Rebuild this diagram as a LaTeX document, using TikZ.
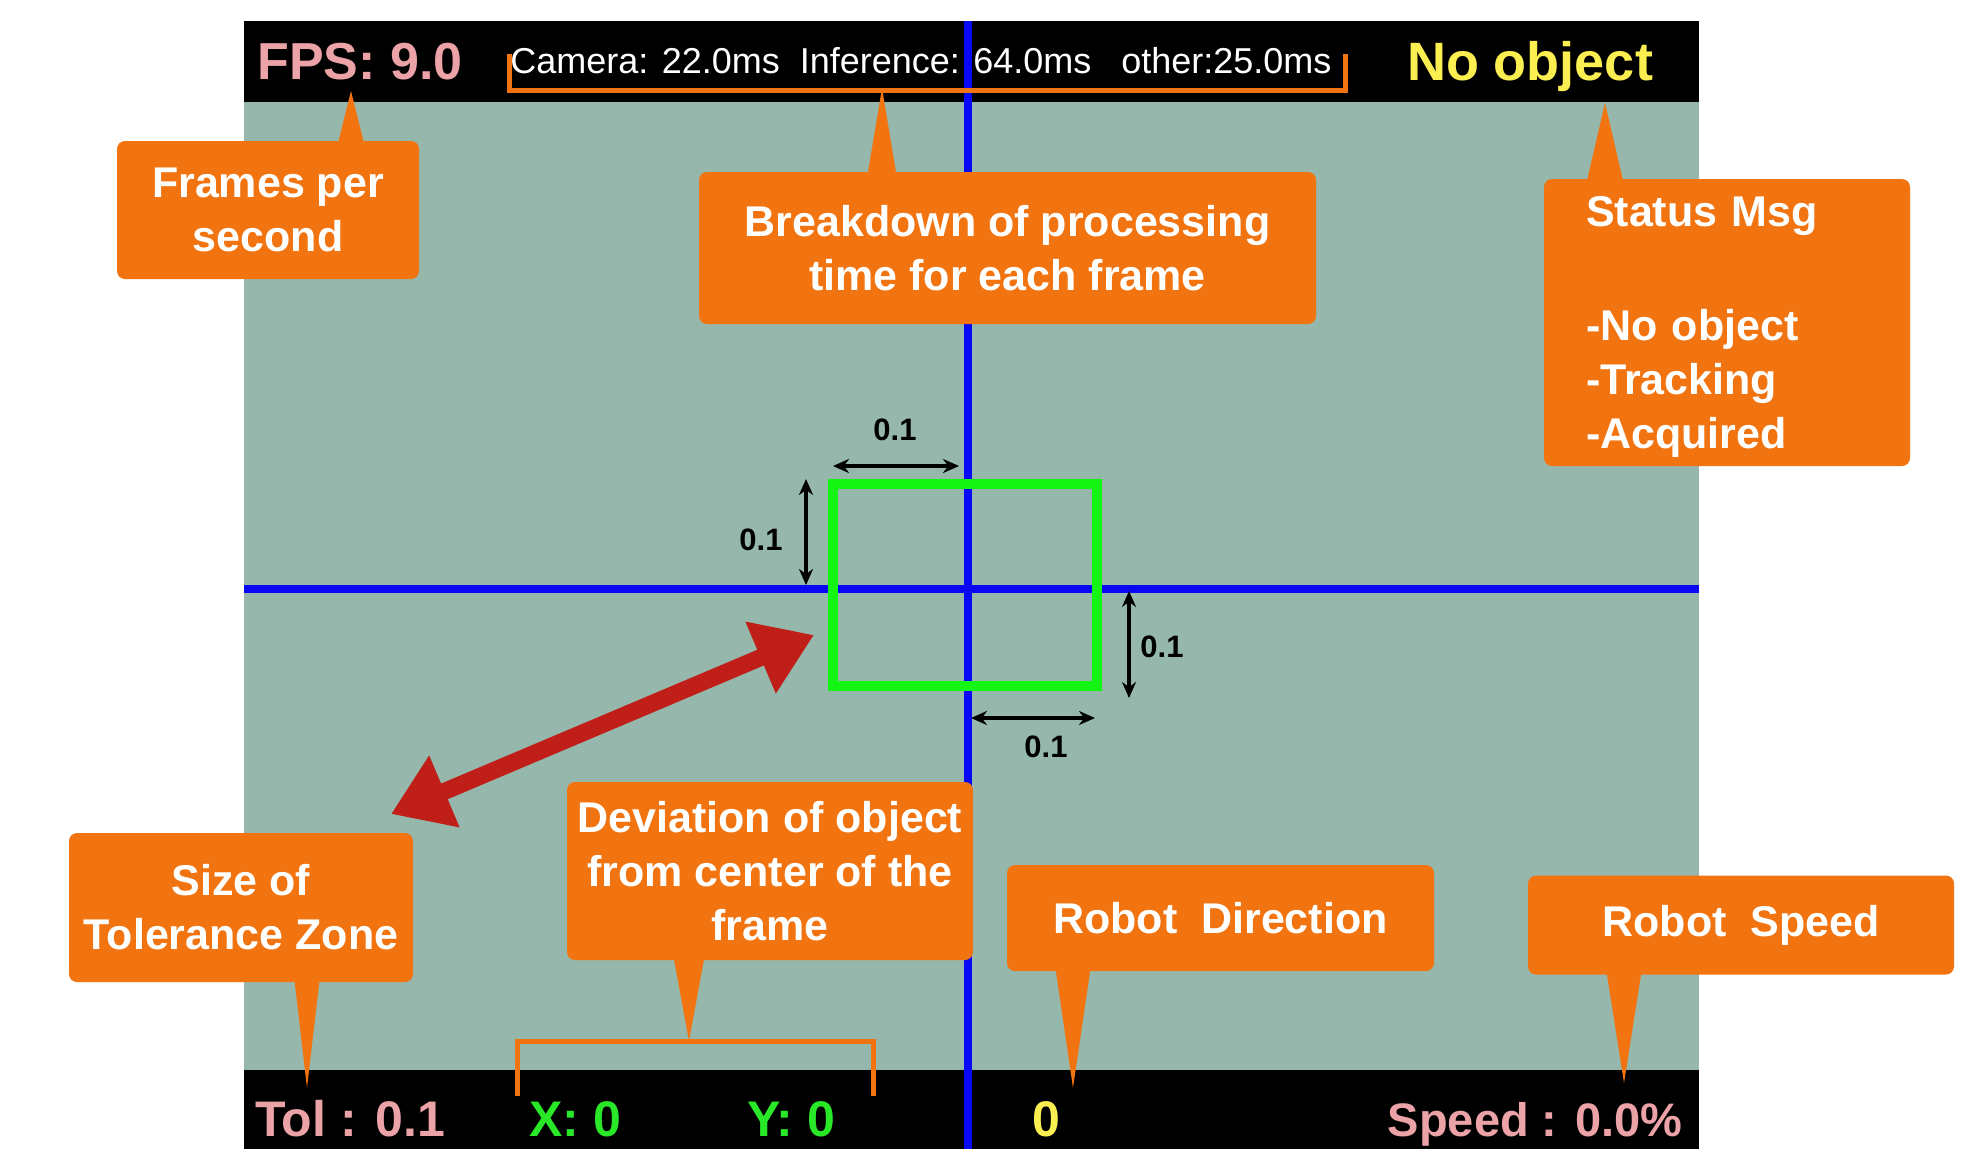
\documentclass[tikz,border=0pt]{standalone}
\usepackage{fontspec}
\setmainfont{Liberation Sans}
\usetikzlibrary{arrows.meta,calc}
\definecolor{screenteal}{RGB}{150,184,172}
\definecolor{calloutorange}{RGB}{241,116,16}
\definecolor{crossblue}{RGB}{8,8,245}
\definecolor{tolgreen}{RGB}{20,245,20}
\definecolor{arrowred}{RGB}{192,30,24}
\definecolor{hudpink}{RGB}{236,163,168}
\definecolor{hudyellow}{RGB}{250,238,80}
\definecolor{hudgreen}{RGB}{40,232,40}
\newcommand{\hudsize}[2]{\fontsize{#1pt}{#2pt}\selectfont}
\newcommand{\callptr}[4]{%
  \fill[calloutorange] ($(#2 |- #1)+(-#3,#4)$) -- (#2) -- ($(#2 |- #1)+(#3,#4)$) -- cycle;}
\tikzset{
  callout/.style={fill=calloutorange, rounded corners=8pt, text=white, inner sep=0pt,
    font=\hudsize{43}{54}\bfseries, align=center},
  hudtext/.style={anchor=base, inner sep=0pt, font=\hudsize{50}{60}\bfseries},
  dimarrow/.style={{Stealth[length=16pt,width=14pt]}-{Stealth[length=16pt,width=14pt]}, line width=3.5pt},
  dimlabel/.style={inner sep=0pt, font=\hudsize{31}{36}\bfseries},
  bracket/.style={draw=calloutorange, line width=5pt},
}

\begin{document}
\begin{tikzpicture}[x=1pt,y=-1pt]
\useasboundingbox (0,0) rectangle (1979,1149);
\fill[white] (0,0) rectangle (1979,1149);
% camera frame
\fill[screenteal] (244,21) rectangle (1699,1149);
\fill[black] (244,21) rectangle (1699,102);
\fill[black] (244,1070) rectangle (1699,1149);
\node[hudtext, text=hudpink, font=\hudsize{52}{60}\bfseries] (fps) at (360,79) {FPS: 9.0};
\node[hudtext, text=white, font=\hudsize{36}{42}] (timing) at (921,73)
  {Camera: 22.0ms\ \ Inference: 64.0ms\ \ \ other:25.0ms};
\node[hudtext, text=hudyellow, font=\hudsize{54}{60}\bfseries] (statusmsg) at (1530,80) {No object};
\node[hudtext, text=hudpink] (tol) at (350,1136) {Tol : 0.1};
\node[hudtext, text=hudgreen] (devx) at (575,1136) {X: 0};
\node[hudtext, text=hudgreen] (devy) at (791,1136) {Y: 0};
\node[hudtext, text=hudyellow] (dir) at (1046,1136) {0};
\node[hudtext, text=hudpink, font=\hudsize{47}{60}\bfseries] (speed) at (1535,1136) {Speed : 0.0\%};
% cross hair and tolerance zone
\draw[crossblue, line width=8.5pt] (968,21) -- (968,1149);
\draw[crossblue, line width=8.5pt] (244,589) -- (1699,589);
\draw[tolgreen, line width=10pt] (833,484) rectangle (1097,686);
\draw[dimarrow] (833,466) -- (959,466);
\draw[dimarrow] (806,479) -- (806,585);
\draw[dimarrow] (1129,591) -- (1129,698);
\draw[dimarrow] (971,718) -- (1095,718);
\node[dimlabel] (dimtop) at (895,430) {0.1};
\node[dimlabel] (dimleft) at (761,540) {0.1};
\node[dimlabel] (dimright) at (1162,647) {0.1};
\node[dimlabel] (dimbottom) at (1046,747) {0.1};
\draw[arrowred, line width=17pt, {Triangle[length=58pt,width=74pt]}-{Triangle[length=58pt,width=74pt]}]
  (391,814) -- (814,635);
% brackets
\draw[bracket] (509,54) -- (509,90) -- (1345,90) -- (1345,54);
\draw[bracket] (517,1096) -- (517,1041) -- (873,1041) -- (873,1096);
% callouts
\coordinate (fpsTip) at (351,91);
\coordinate (breakTip) at (882,88);
\coordinate (statusTip) at (1605,103);
\coordinate (tolTip) at (307,1088);
\coordinate (devTip) at (689,1041);
\coordinate (dirTip) at (1073,1088);
\coordinate (speedTip) at (1624,1083);
\node[callout, minimum width=302pt, minimum height=138pt] (fpsBox) at (268,210) {Frames per\\second};
\node[callout, minimum width=617pt, minimum height=152pt] (breakBox) at (1007.5,248)
  {Breakdown of processing\\time for each frame};
\node[callout, align=left, inner xsep=42pt, text width=282pt, minimum height=287pt] (statusBox) at (1727,322.5)
  {\rule{0pt}{39pt}Status Msg\\[60pt]-No object\\-Tracking\\-Acquired};
\node[callout, minimum width=344pt, minimum height=149pt] (tolBox) at (241,907.5) {Size of\\Tolerance Zone};
\node[callout, minimum width=406pt, minimum height=178pt] (devBox) at (770,871)
  {Deviation of object\\from center of the\\frame};
\node[callout, minimum width=427pt, minimum height=106pt] (dirBox) at (1220.5,918) {Robot\ \ Direction};
\node[callout, minimum width=426pt, minimum height=99pt] (speedBox) at (1741,925) {Robot\ \ Speed};
\callptr{fpsBox.north}{fpsTip}{14}{6}
\callptr{breakBox.north}{breakTip}{15}{6}
\callptr{statusBox.north}{statusTip}{19}{6}
\callptr{tolBox.south}{tolTip}{13}{-6}
\callptr{devBox.south}{devTip}{16}{-6}
\callptr{dirBox.south}{dirTip}{18}{-6}
\callptr{speedBox.south}{speedTip}{18}{-6}
\end{tikzpicture}
\end{document}
